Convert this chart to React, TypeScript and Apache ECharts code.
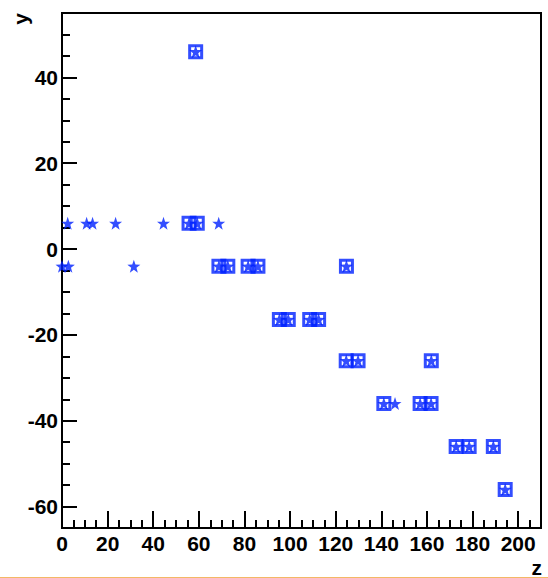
import React, { useEffect, useRef } from 'react';
import * as echarts from 'echarts';

// All points (star markers)
const starZ = [2.5, 10.8, 13.4, 23.5, 44.5, 55.7, 59.3, 68.7, 0, 2.8, 31.5, 68.8, 72.7, 81.6, 85.9, 124.7, 58.6, 95.3, 99.2, 108.6, 112.5, 124.6, 129.8, 161.9, 141.1, 146.0, 157.0, 161.8, 172.8, 178.5, 189.1, 194.3];
const starY = [6, 6, 6, 6, 6, 6, 6, 6, -4, -4, -4, -4, -4, -4, -4, -4, 46, -16.4, -16.4, -16.4, -16.4, -26, -26, -26, -36, -36, -36, -36, -46, -46, -46, -56];

// Selected points (open square markers)
const boxZ = [58.6, 55.7, 59.3, 68.8, 72.7, 81.6, 85.9, 124.7, 95.3, 99.2, 108.6, 112.5, 124.6, 129.8, 161.9, 141.1, 157.0, 161.8, 172.8, 178.5, 189.1, 194.3];
const boxY = [46, 6, 6, -4, -4, -4, -4, -4, -16.4, -16.4, -16.4, -16.4, -26, -26, -26, -36, -36, -36, -46, -46, -46, -56];

const xTickLabels = [0, 20, 40, 60, 80, 100, 120, 140, 160, 180, 200];
const yTickLabels = [-60, -40, -20, 0, 20, 40];

const STAR = 'path://M50 0 L61.76 33.82 L97.55 34.55 L69.02 56.18 L79.39 90.45 L50 70 L20.61 90.45 L30.98 56.18 L2.45 34.55 L38.24 33.82 Z';

export default function App() {
  const ref = useRef<HTMLDivElement>(null);
  useEffect(() => {
    const chart = echarts.init(ref.current!, null, { renderer: 'svg' });
    const blue = '#0022ff';
    const tickStyle = { color: '#000', width: 2 };
    const labelFont = { fontFamily: 'Liberation Sans', fontWeight: 'bold' as const, fontSize: 21, color: '#000' };
    chart.setOption({
      animation: false,
      backgroundColor: '#ffffff',
      grid: { left: 62, top: 13, right: 7, bottom: 50, show: true, borderColor: '#000', borderWidth: 2, backgroundColor: 'transparent' },
      xAxis: [
        {
          type: 'value', min: 0, max: 210, interval: 20,
          axisLine: { show: true, onZero: false, lineStyle: tickStyle },
          axisTick: { show: true, inside: true, length: 17, lineStyle: tickStyle },
          splitLine: { show: false },
          axisLabel: { ...labelFont, margin: 5, formatter: (v: number) => (xTickLabels.includes(v) ? String(v) : '') },
        },
        {
          type: 'value', min: 0, max: 210, interval: 5, position: 'bottom',
          axisLine: { show: false, onZero: false },
          axisTick: { show: true, inside: true, length: 8, lineStyle: tickStyle },
          splitLine: { show: false },
          axisLabel: { show: false },
        },
      ],
      yAxis: [
        {
          type: 'value', min: -65, max: 55, minInterval: 20, maxInterval: 20, splitNumber: 6,
          axisLine: { show: true, onZero: false, lineStyle: tickStyle },
          axisTick: { show: true, inside: true, length: 15, lineStyle: tickStyle },
          splitLine: { show: false },
          axisLabel: { ...labelFont, margin: 4, formatter: (v: number) => (yTickLabels.includes(v) ? String(v) : '') },
        },
        {
          type: 'value', min: -65, max: 55, interval: 5, position: 'left',
          axisLine: { show: false, onZero: false },
          axisTick: { show: true, inside: true, length: 8, lineStyle: tickStyle },
          splitLine: { show: false },
          axisLabel: { show: false },
        },
      ],
      series: [
        {
          type: 'scatter',
          xAxisIndex: 0, yAxisIndex: 0,
          symbol: 'rect',
          symbolSize: 12,
          itemStyle: { color: 'rgba(255,255,255,0)', borderColor: blue, borderWidth: 3 },
          data: boxZ.map((z, i) => [z, boxY[i]]),
        },
        {
          type: 'scatter',
          xAxisIndex: 0, yAxisIndex: 0,
          symbol: STAR,
          symbolSize: 13,
          itemStyle: { color: blue },
          data: starZ.map((z, i) => [z, starY[i]]),
        },
      ],
      graphic: [
        {
          type: 'text', x: 20, y: 13, rotation: Math.PI / 2,
          style: { text: 'y', font: 'bold 21px "Liberation Sans"', fill: '#000', align: 'right', verticalAlign: 'middle' },
        },
        {
          type: 'text', x: 542, y: 578,
          style: { text: 'z', font: 'bold 21px "Liberation Sans"', fill: '#000', align: 'right', verticalAlign: 'bottom' },
        },
        {
          type: 'line', shape: { x1: 0, y1: 577.5, x2: 548, y2: 577.5 },
          style: { stroke: '#f3b865', lineWidth: 1 },
        },
      ],
    });
    return () => chart.dispose();
  }, []);
  return <div ref={ref} style={{ position: 'absolute', left: 0, top: 0, width: 548, height: 578 }} />;
}
